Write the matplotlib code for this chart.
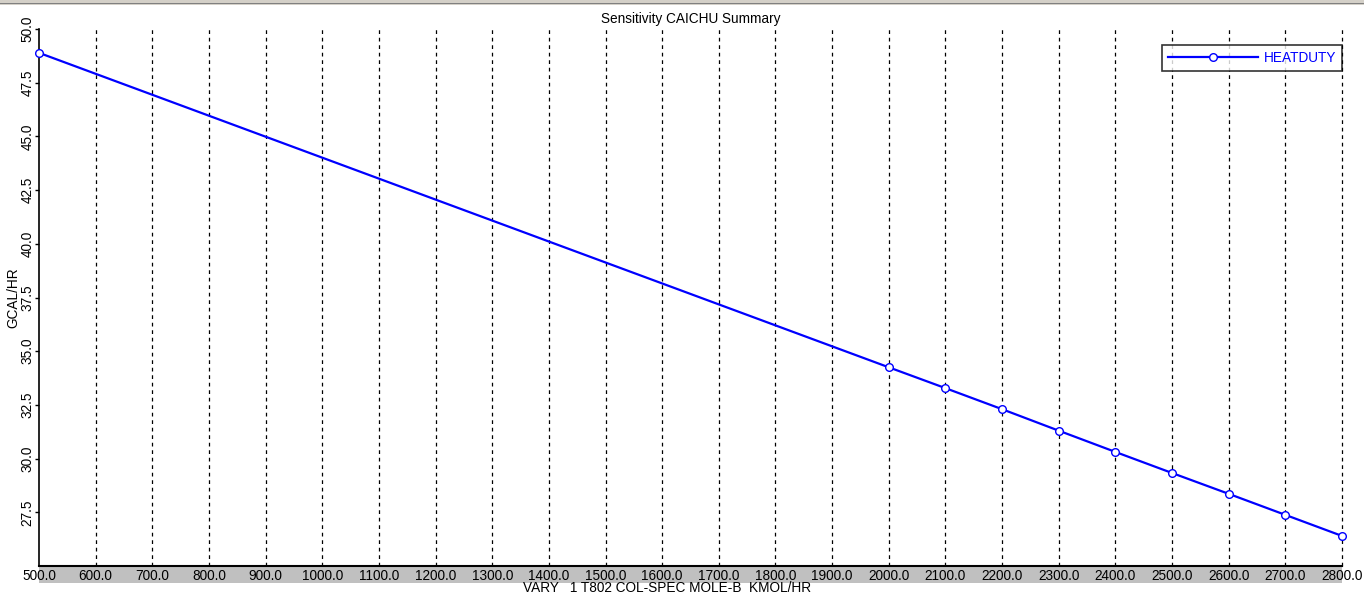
import matplotlib.pyplot as plt
from matplotlib.patches import Rectangle

plt.rcParams['font.family'] = ['Liberation Sans', 'DejaVu Sans']

# sensitivity results
mole_b = [500.0, 2000.0, 2100.0, 2200.0, 2300.0, 2400.0, 2500.0, 2600.0, 2700.0, 2800.0]
heatduty = [48.89, 34.25, 33.28, 32.30, 31.30, 30.31, 29.33, 28.36, 27.38, 26.40]
x_ticks = [500 + 100 * i for i in range(24)]
y_ticks = [27.5, 30.0, 32.5, 35.0, 37.5, 40.0, 42.5, 45.0, 47.5, 50.0]

fs = 9.8

fig = plt.figure(figsize=(13.64, 5.95), dpi=100)
ax = fig.add_axes([39 / 1364, 29 / 595, (1342 - 39) / 1364, (566 - 29) / 595])

# window frame strip at the top
fig.patches.append(Rectangle((0, 1 - 5 / 595), 1, 5 / 595, transform=fig.transFigure,
                             facecolor='#d4d0c8', edgecolor='none'))
fig.patches.append(Rectangle((0, 1 - 4 / 595), 1, 1.5 / 595, transform=fig.transFigure,
                             facecolor='#808080', edgecolor='none'))

ax.plot(mole_b, heatduty, color='#0000ff', lw=1.6, marker='o', ms=5.5,
        mfc='white', mec='#0000ff', mew=1.0, label='HEATDUTY', zorder=3, clip_on=False)

for xv in x_ticks[1:]:
    ax.axvline(xv, color='black', lw=0.9, ls=(0, (3, 3)), zorder=1, clip_on=False)

ax.set_xlim(500, 2800)
ax.set_ylim(25.0, 50.0)
ax.set_xticks(x_ticks)
ax.set_xticklabels(['%.1f' % v for v in x_ticks])
ax.set_yticks(y_ticks)
ax.set_yticklabels(['%.1f' % v for v in y_ticks], rotation=90, va='center')

ax.tick_params(axis='x', length=0, pad=2, labelsize=fs)
ax.tick_params(axis='y', length=3, width=1, direction='out', pad=0, labelsize=fs)

ax.spines['top'].set_visible(False)
ax.spines['right'].set_visible(False)
ax.spines['left'].set_linewidth(1.2)
ax.spines['bottom'].set_linewidth(1.5)

# gray band under the x axis
ax.add_patch(Rectangle((0, -17 / 537), 1, 17 / 537, transform=ax.transAxes,
                       facecolor='#c0c0c0', edgecolor='none', clip_on=False, zorder=0))

ax.set_title('Sensitivity CAICHU Summary', fontsize=fs, pad=4)
ax.set_xlabel('VARY   1 T802 COL-SPEC MOLE-B  KMOL/HR', fontsize=fs)
ax.xaxis.set_label_coords(0.482, -0.028)
ax.set_ylabel('GCAL/HR', fontsize=fs)
ax.yaxis.set_label_coords(-0.0145, 0.5)

leg = ax.legend(loc='upper right', bbox_to_anchor=(1.0, 0.970), fontsize=fs,
                frameon=True, fancybox=False, handlelength=6.6, borderpad=0.45,
                borderaxespad=0, handletextpad=0.4, markerscale=1.0)
leg.get_frame().set_edgecolor('black')
leg.get_frame().set_linewidth(1.2)
for t in leg.get_texts():
    t.set_color('#0000ff')

fig.savefig('out.png', dpi=100)
